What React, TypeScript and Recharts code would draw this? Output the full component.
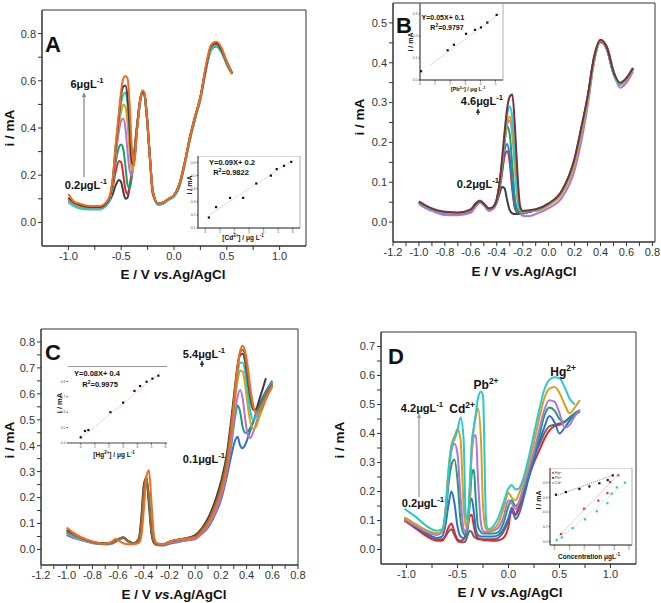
import React from "react";
import {
  LineChart,
  Line,
  XAxis,
  YAxis,
  ReferenceArea,
  ReferenceLine,
  ComposedChart,
  Scatter,
} from "recharts";

const FONT = '"Liberation Sans", Arial, Helvetica, sans-serif';

const BLACK = "#3d3d3d";
const RED = "#e3262a";
const GREEN = "#1c9d70";
const PURPLE = "#b473dc";
const GOLD = "#d7a11c";
const CYAN = "#2cc7c9";
const DARK = "#4b3a3f";
const ORANGE = "#f36b21";
const BLUE = "#2c6fd8";
const BROWN = "#7b2f33";
const OLIVE = "#8a6f3a";

// ---------- A : Cd2+ ----------
const potA = [-1.0, -0.95, -0.9, -0.8, -0.7, -0.62, -0.58, -0.55, -0.52, -0.5, -0.48, -0.46, -0.44, -0.42, -0.4, -0.38, -0.35, -0.32, -0.3, -0.28, -0.26, -0.23, -0.2, -0.15, -0.1, -0.05, 0, 0.05, 0.1, 0.15, 0.2, 0.25, 0.3, 0.35, 0.4, 0.45, 0.5, 0.55];
const aBlack = [0.10, 0.08, 0.07, 0.06, 0.06, 0.085, 0.12, 0.16, 0.18, 0.17, 0.13, 0.10, 0.105, 0.15, 0.21, 0.28, 0.41, 0.52, 0.55, 0.54, 0.46, 0.28, 0.12, 0.08, 0.085, 0.10, 0.115, 0.16, 0.25, 0.35, 0.44, 0.53, 0.65, 0.74, 0.755, 0.73, 0.67, 0.63];
const aRed = [0.10, 0.08, 0.07, 0.062, 0.062, 0.09, 0.15, 0.22, 0.26, 0.255, 0.20, 0.14, 0.12, 0.15, 0.21, 0.28, 0.41, 0.52, 0.55, 0.54, 0.46, 0.28, 0.12, 0.08, 0.085, 0.10, 0.115, 0.16, 0.25, 0.36, 0.45, 0.53, 0.65, 0.74, 0.76, 0.73, 0.68, 0.63];
const aGreen = [0.09, 0.075, 0.065, 0.06, 0.06, 0.09, 0.16, 0.26, 0.32, 0.33, 0.31, 0.24, 0.16, 0.145, 0.19, 0.27, 0.40, 0.51, 0.55, 0.54, 0.46, 0.29, 0.13, 0.075, 0.08, 0.10, 0.11, 0.15, 0.24, 0.35, 0.44, 0.52, 0.64, 0.73, 0.745, 0.72, 0.67, 0.63];
const aPurple = [0.095, 0.078, 0.068, 0.062, 0.062, 0.09, 0.17, 0.29, 0.39, 0.43, 0.44, 0.40, 0.30, 0.22, 0.20, 0.26, 0.40, 0.52, 0.555, 0.545, 0.47, 0.29, 0.13, 0.078, 0.083, 0.10, 0.112, 0.155, 0.25, 0.35, 0.44, 0.53, 0.65, 0.75, 0.765, 0.735, 0.68, 0.635];
const aGold = [0.10, 0.08, 0.07, 0.063, 0.063, 0.09, 0.17, 0.31, 0.42, 0.47, 0.50, 0.49, 0.42, 0.30, 0.22, 0.25, 0.40, 0.52, 0.555, 0.545, 0.47, 0.29, 0.13, 0.08, 0.085, 0.10, 0.115, 0.16, 0.25, 0.36, 0.45, 0.53, 0.65, 0.74, 0.76, 0.73, 0.68, 0.63];
const aCyan = [0.085, 0.07, 0.06, 0.055, 0.055, 0.085, 0.17, 0.32, 0.44, 0.51, 0.54, 0.55, 0.50, 0.38, 0.26, 0.25, 0.39, 0.51, 0.55, 0.54, 0.46, 0.29, 0.13, 0.075, 0.08, 0.095, 0.11, 0.15, 0.24, 0.35, 0.44, 0.52, 0.64, 0.73, 0.75, 0.725, 0.675, 0.63];
const aDark = [0.105, 0.085, 0.075, 0.065, 0.065, 0.095, 0.18, 0.33, 0.46, 0.54, 0.575, 0.58, 0.53, 0.40, 0.25, 0.25, 0.40, 0.52, 0.555, 0.545, 0.47, 0.29, 0.13, 0.08, 0.085, 0.10, 0.115, 0.16, 0.25, 0.36, 0.45, 0.53, 0.65, 0.745, 0.76, 0.73, 0.68, 0.63];
const aOrange = [0.12, 0.09, 0.08, 0.07, 0.07, 0.10, 0.19, 0.34, 0.47, 0.56, 0.61, 0.62, 0.61, 0.50, 0.32, 0.24, 0.39, 0.52, 0.56, 0.55, 0.47, 0.29, 0.13, 0.08, 0.085, 0.10, 0.115, 0.16, 0.25, 0.36, 0.45, 0.53, 0.66, 0.75, 0.765, 0.74, 0.68, 0.63];

// ---------- B : Pb2+ ----------
const potB = [-1.0, -0.95, -0.9, -0.8, -0.7, -0.6, -0.56, -0.53, -0.5, -0.46, -0.43, -0.4, -0.38, -0.36, -0.34, -0.32, -0.3, -0.28, -0.26, -0.24, -0.22, -0.2, -0.15, -0.1, 0.0, 0.1, 0.2, 0.25, 0.3, 0.35, 0.4, 0.45, 0.5, 0.55, 0.6, 0.65];
const bBlack = [0.05, 0.04, 0.032, 0.024, 0.023, 0.03, 0.046, 0.053, 0.046, 0.034, 0.035, 0.05, 0.07, 0.088, 0.085, 0.055, 0.03, 0.022, 0.02, 0.02, 0.021, 0.022, 0.025, 0.03, 0.045, 0.075, 0.155, 0.23, 0.31, 0.41, 0.455, 0.435, 0.375, 0.347, 0.36, 0.385];
const bRed = [0.048, 0.038, 0.03, 0.022, 0.02, 0.026, 0.04, 0.05, 0.044, 0.032, 0.036, 0.05, 0.08, 0.12, 0.165, 0.178, 0.15, 0.08, 0.035, 0.024, 0.022, 0.022, 0.026, 0.03, 0.044, 0.073, 0.15, 0.225, 0.305, 0.405, 0.452, 0.432, 0.372, 0.345, 0.358, 0.383];
const bBlue = [0.05, 0.04, 0.032, 0.024, 0.022, 0.03, 0.046, 0.052, 0.045, 0.033, 0.036, 0.052, 0.085, 0.13, 0.18, 0.196, 0.165, 0.09, 0.038, 0.025, 0.022, 0.022, 0.026, 0.03, 0.045, 0.075, 0.155, 0.23, 0.31, 0.41, 0.455, 0.435, 0.375, 0.347, 0.36, 0.385];
const bGreen = [0.05, 0.04, 0.032, 0.024, 0.022, 0.03, 0.048, 0.054, 0.046, 0.034, 0.036, 0.055, 0.09, 0.14, 0.2, 0.24, 0.22, 0.14, 0.06, 0.03, 0.024, 0.023, 0.027, 0.031, 0.046, 0.076, 0.157, 0.232, 0.312, 0.412, 0.456, 0.436, 0.376, 0.348, 0.361, 0.386];
const bPurple = [0.045, 0.035, 0.028, 0.018, 0.017, 0.023, 0.04, 0.05, 0.042, 0.028, 0.032, 0.05, 0.085, 0.14, 0.2, 0.245, 0.255, 0.22, 0.14, 0.06, 0.025, 0.016, 0.015, 0.02, 0.035, 0.06, 0.13, 0.2, 0.29, 0.40, 0.455, 0.44, 0.38, 0.337, 0.35, 0.378];
const bGold = [0.05, 0.04, 0.032, 0.024, 0.022, 0.03, 0.046, 0.052, 0.045, 0.033, 0.037, 0.056, 0.09, 0.145, 0.205, 0.25, 0.265, 0.23, 0.14, 0.06, 0.03, 0.025, 0.028, 0.028, 0.042, 0.07, 0.145, 0.22, 0.30, 0.405, 0.455, 0.435, 0.375, 0.345, 0.358, 0.383];
const bCyan = [0.05, 0.04, 0.032, 0.024, 0.022, 0.03, 0.046, 0.052, 0.045, 0.033, 0.037, 0.057, 0.092, 0.15, 0.215, 0.27, 0.29, 0.26, 0.17, 0.07, 0.032, 0.026, 0.028, 0.03, 0.045, 0.075, 0.155, 0.23, 0.31, 0.41, 0.455, 0.435, 0.372, 0.345, 0.36, 0.387];
const bBrown = [0.052, 0.042, 0.034, 0.026, 0.024, 0.032, 0.047, 0.053, 0.046, 0.034, 0.038, 0.058, 0.095, 0.155, 0.225, 0.285, 0.315, 0.32, 0.24, 0.12, 0.04, 0.028, 0.03, 0.032, 0.047, 0.078, 0.16, 0.235, 0.315, 0.415, 0.458, 0.438, 0.378, 0.35, 0.362, 0.387];

// ---------- C : Hg2+ ----------
const potC = [-1.0, -0.95, -0.9, -0.8, -0.7, -0.65, -0.62, -0.59, -0.56, -0.52, -0.48, -0.44, -0.42, -0.4, -0.38, -0.36, -0.34, -0.32, -0.3, -0.25, -0.2, -0.1, 0.0, 0.05, 0.1, 0.15, 0.2, 0.25, 0.28, 0.31, 0.33, 0.35, 0.37, 0.39, 0.41, 0.43, 0.45, 0.47, 0.5, 0.55, 0.6];
const cBlue = [0.055, 0.045, 0.038, 0.025, 0.02, 0.022, 0.03, 0.038, 0.044, 0.03, 0.022, 0.03, 0.07, 0.19, 0.26, 0.19, 0.07, 0.025, 0.017, 0.015, 0.022, 0.032, 0.04, 0.06, 0.085, 0.13, 0.19, 0.29, 0.36, 0.42, 0.435, 0.40, 0.39, 0.405, 0.43, 0.46, 0.49, 0.52, 0.56, 0.61, 0.65];
const cGreen = [0.065, 0.052, 0.043, 0.027, 0.021, 0.024, 0.031, 0.04, 0.046, 0.031, 0.023, 0.032, 0.08, 0.2, 0.265, 0.2, 0.08, 0.03, 0.02, 0.02, 0.028, 0.038, 0.045, 0.065, 0.095, 0.14, 0.21, 0.31, 0.40, 0.51, 0.555, 0.53, 0.47, 0.45, 0.455, 0.47, 0.49, 0.515, 0.55, 0.60, 0.64];
const cPurple = [0.06, 0.048, 0.04, 0.025, 0.02, 0.022, 0.03, 0.038, 0.044, 0.03, 0.022, 0.03, 0.07, 0.19, 0.26, 0.2, 0.08, 0.028, 0.018, 0.018, 0.025, 0.034, 0.04, 0.06, 0.09, 0.135, 0.20, 0.31, 0.41, 0.53, 0.59, 0.615, 0.58, 0.50, 0.44, 0.43, 0.45, 0.48, 0.53, 0.59, 0.635];
const cGold = [0.07, 0.055, 0.045, 0.028, 0.022, 0.025, 0.032, 0.04, 0.045, 0.03, 0.022, 0.03, 0.075, 0.2, 0.27, 0.2, 0.08, 0.03, 0.02, 0.02, 0.028, 0.038, 0.05, 0.07, 0.10, 0.15, 0.22, 0.33, 0.44, 0.58, 0.65, 0.69, 0.685, 0.63, 0.55, 0.49, 0.465, 0.47, 0.51, 0.58, 0.63];
const cCyan = [0.065, 0.052, 0.043, 0.027, 0.021, 0.024, 0.031, 0.04, 0.046, 0.031, 0.023, 0.032, 0.08, 0.2, 0.27, 0.21, 0.085, 0.03, 0.02, 0.02, 0.03, 0.04, 0.05, 0.07, 0.10, 0.15, 0.22, 0.34, 0.46, 0.60, 0.68, 0.72, 0.72, 0.68, 0.60, 0.53, 0.50, 0.51, 0.54, 0.60, 0.645];
const cBlack = [0.075, 0.06, 0.048, 0.03, 0.024, 0.026, 0.033, 0.042, 0.046, 0.033, 0.024, 0.04, 0.12, 0.25, 0.275, 0.17, 0.06, 0.025, 0.02, 0.02, 0.03, 0.04, 0.055, 0.08, 0.12, 0.18, 0.26, 0.38, 0.50, 0.63, 0.71, 0.75, 0.755, 0.72, 0.65, 0.58, 0.54, 0.54, 0.58, 0.66, null];
const cOlive = [0.07, 0.056, 0.046, 0.028, 0.022, 0.025, 0.032, 0.041, 0.046, 0.032, 0.023, 0.035, 0.1, 0.23, 0.28, 0.19, 0.07, 0.028, 0.02, 0.02, 0.03, 0.04, 0.05, 0.075, 0.11, 0.165, 0.24, 0.36, 0.48, 0.62, 0.71, 0.76, 0.77, 0.74, 0.67, 0.60, 0.55, 0.53, 0.55, 0.60, 0.64];
const cOrange = [0.085, 0.065, 0.05, 0.03, 0.022, 0.03, 0.04, 0.032, 0.024, 0.02, 0.02, 0.025, 0.05, 0.15, 0.28, 0.305, 0.18, 0.05, 0.025, 0.02, 0.03, 0.04, 0.045, 0.065, 0.10, 0.15, 0.22, 0.33, 0.45, 0.60, 0.70, 0.765, 0.785, 0.76, 0.70, 0.62, 0.56, 0.53, 0.53, 0.58, 0.63];

// ---------- D : simultaneous ----------
const potD = [-1.02, -0.9, -0.8, -0.7, -0.65, -0.62, -0.59, -0.56, -0.53, -0.5, -0.47, -0.44, -0.42, -0.4, -0.38, -0.36, -0.34, -0.32, -0.3, -0.27, -0.25, -0.22, -0.2, -0.15, -0.1, -0.05, 0.0, 0.03, 0.07, 0.1, 0.15, 0.2, 0.25, 0.3, 0.35, 0.4, 0.45, 0.5, 0.55, 0.6, 0.65, 0.7];
const dRed = [0.10, 0.07, 0.045, 0.03, 0.03, 0.045, 0.075, 0.09, 0.06, 0.035, 0.03, 0.035, 0.05, 0.08, 0.115, 0.12, 0.08, 0.05, 0.04, 0.035, 0.033, 0.032, 0.032, 0.03, 0.032, 0.04, 0.08, 0.145, 0.12, 0.14, 0.19, 0.25, 0.30, 0.34, 0.38, 0.41, 0.425, 0.43, 0.44, 0.455, 0.47, 0.48];
const dDark = [0.10, 0.075, 0.05, 0.035, 0.035, 0.045, 0.06, 0.07, 0.05, 0.03, 0.025, 0.025, 0.03, 0.05, 0.065, 0.06, 0.045, 0.04, 0.035, 0.035, 0.035, 0.035, 0.035, 0.035, 0.04, 0.06, 0.10, 0.13, 0.12, 0.15, 0.21, 0.27, 0.32, 0.36, 0.40, 0.425, 0.43, 0.435, 0.44, 0.455, 0.465, 0.475];
const dBlue = [0.105, 0.075, 0.055, 0.04, 0.045, 0.08, 0.15, 0.20, 0.16, 0.08, 0.045, 0.04, 0.05, 0.10, 0.16, 0.175, 0.13, 0.07, 0.05, 0.045, 0.045, 0.045, 0.045, 0.045, 0.05, 0.07, 0.11, 0.14, 0.105, 0.12, 0.18, 0.25, 0.31, 0.37, 0.42, 0.46, 0.44, 0.40, 0.42, 0.445, 0.465, 0.48];
const dGreen = [0.11, 0.085, 0.065, 0.055, 0.06, 0.10, 0.22, 0.29, 0.31, 0.24, 0.10, 0.055, 0.05, 0.07, 0.16, 0.26, 0.275, 0.17, 0.08, 0.06, 0.055, 0.055, 0.055, 0.055, 0.06, 0.09, 0.15, 0.17, 0.15, 0.16, 0.21, 0.27, 0.33, 0.39, 0.46, 0.49, 0.48, 0.45, 0.44, 0.455, 0.47, 0.48];
const dPurple = [0.105, 0.08, 0.06, 0.05, 0.06, 0.12, 0.25, 0.34, 0.365, 0.33, 0.18, 0.07, 0.06, 0.09, 0.20, 0.33, 0.39, 0.395, 0.25, 0.09, 0.065, 0.06, 0.06, 0.065, 0.075, 0.11, 0.17, 0.16, 0.14, 0.16, 0.22, 0.28, 0.34, 0.41, 0.48, 0.515, 0.51, 0.47, 0.42, 0.43, 0.46, 0.48];
const dGold = [0.11, 0.085, 0.065, 0.055, 0.065, 0.13, 0.27, 0.36, 0.39, 0.415, 0.38, 0.15, 0.08, 0.09, 0.20, 0.35, 0.42, 0.46, 0.487, 0.38, 0.15, 0.07, 0.065, 0.07, 0.09, 0.14, 0.195, 0.18, 0.17, 0.19, 0.24, 0.30, 0.37, 0.45, 0.52, 0.555, 0.56, 0.54, 0.50, 0.47, 0.49, 0.515];
const dCyan = [0.14, 0.11, 0.08, 0.065, 0.07, 0.12, 0.26, 0.35, 0.38, 0.41, 0.455, 0.38, 0.12, 0.10, 0.22, 0.37, 0.42, 0.47, 0.52, 0.545, 0.53, 0.10, 0.07, 0.08, 0.11, 0.16, 0.21, 0.222, 0.207, 0.21, 0.25, 0.32, 0.40, 0.48, 0.55, 0.585, 0.594, 0.59, 0.56, 0.52, 0.50, null];

// ---------- insets (calibration) ----------
const cdConc = [0.25, 0.74, 1.7, 2.6, 3.5, 4.5, 4.9, 5.4, 5.9];
const cdCur = [0.18, 0.26, 0.33, 0.33, 0.44, 0.50, 0.55, 0.575, 0.605];
const cdFitX = [0.25, 5.9];
const cdFitY = [0.2, 0.61];

const pbConc = [0.07, 1.83, 2.25, 3.05, 3.64, 4.04, 4.46, 5.08];
const pbCur = [0.04, 0.135, 0.16, 0.21, 0.228, 0.239, 0.261, 0.296];
const pbFitX = [0.66, 5.3];
const pbFitY = [0.067, 0.302];

const hgConc = [0, 0.3, 0.54, 2.1, 3.0, 3.8, 4.2, 4.65, 5.07, 5.49];
const hgCur = [0.437, 0.478, 0.484, 0.6, 0.662, 0.738, 0.77, 0.798, 0.818, 0.837];
const hgFitX = [0, 5.6];
const hgFitY = [0.43, 0.855];

const dPbConc = [0.1, 0.77, 1.67, 2.34, 3.01, 3.57, 3.91];
const dPbCur = [0.636, 0.671, 0.714, 0.749, 0.792, 0.835, 0.9];
const dHgConc = [0.44, 1.98, 2.94, 3.55, 3.73, 4.28];
const dHgCur = [0.1, 0.445, 0.555, 0.658, 0.809, 0.9];
const dCdConc = [0.15, 0.49, 1.22, 2.05, 2.83, 3.55, 3.84, 4.18, 4.73];
const dCdCur = [0.02, 0.052, 0.18, 0.3, 0.41, 0.52, 0.65, 0.736, 0.8];

type Curve = { key: string; color: string; values: (number | null)[] };

function toRows(grid: number[], curves: Curve[]) {
  return grid.map((e, i) => {
    const row: Record<string, number | null> = { e };
    curves.forEach((c) => {
      row[c.key] = c.values[i] ?? null;
    });
    return row;
  });
}

function pairs(xs: number[], ys: number[]) {
  return xs.map((x, i) => ({ x, y: ys[i] }));
}

function withMinor(major: number[]) {
  const out: number[] = [];
  major.forEach((t, i) => {
    if (i > 0) out.push(+((major[i - 1] + t) / 2).toFixed(4));
    out.push(t);
  });
  return out;
}

const majorFmt = (major: number[]) => (v: number) =>
  major.some((m) => Math.abs(m - v) < 1e-6) ? v.toFixed(1) : "";

const tickStyle = { fontSize: 11, fill: "#333", fontFamily: FONT };

function Panel({
  left,
  top,
  width,
  height,
  frame,
  grid,
  curves,
  xDomain,
  yDomain,
  xMajor,
  yMajor,
}: {
  left: number;
  top: number;
  width: number;
  height: number;
  frame: { l: number; t: number; r: number; b: number };
  grid: number[];
  curves: Curve[];
  xDomain: [number, number];
  yDomain: [number, number];
  xMajor: number[];
  yMajor: number[];
}) {
  const yw = 34;
  const xh = 20;
  const margin = {
    left: frame.l - left - yw,
    top: frame.t - top,
    right: left + width - frame.r,
    bottom: top + height - frame.b - xh,
  };
  return (
    <div style={{ position: "absolute", left, top }}>
      <LineChart width={width} height={height} data={toRows(grid, curves)} margin={margin}>
        <XAxis
          type="number"
          dataKey="e"
          domain={xDomain}
          ticks={withMinor(xMajor)}
          tickFormatter={majorFmt(xMajor)}
          interval={0}
          allowDataOverflow
          height={xh}
          tick={tickStyle}
          stroke="#333"
          tickSize={4}
        />
        <YAxis
          type="number"
          domain={yDomain}
          ticks={withMinor(yMajor)}
          tickFormatter={majorFmt(yMajor)}
          interval={0}
          allowDataOverflow
          width={yw}
          tick={tickStyle}
          stroke="#333"
          tickSize={4}
        />
        <ReferenceArea
          x1={xDomain[0]}
          x2={xDomain[1]}
          y1={yDomain[0]}
          y2={yDomain[1]}
          fill="none"
          stroke="#333"
          strokeWidth={1}
          ifOverflow="visible"
        />
        {curves.map((c) => (
          <Line
            key={c.key}
            dataKey={c.key}
            type="monotone"
            stroke={c.color}
            strokeWidth={2}
            dot={false}
            isAnimationActive={false}
          />
        ))}
      </LineChart>
    </div>
  );
}

type PointSet = { color: string; pts: { x: number; y: number }[] };

function Inset({
  frame,
  xDomain,
  yDomain,
  xTicks,
  yTicks,
  sets,
  fits,
  boxed = true,
}: {
  frame: { l: number; t: number; r: number; b: number };
  xDomain: [number, number];
  yDomain: [number, number];
  xTicks: number[];
  yTicks: number[];
  sets: PointSet[];
  fits: PointSet[];
  boxed?: boolean;
}) {
  const yw = 8;
  const xh = 8;
  const small = { fontSize: 3.5, fill: "#555", fontFamily: FONT };
  return (
    <div style={{ position: "absolute", left: frame.l - yw, top: frame.t }}>
      <ComposedChart
        width={frame.r - frame.l + yw + 1}
        height={frame.b - frame.t + xh}
        margin={{ top: 0, right: 1, left: 0, bottom: 0 }}
      >
        <XAxis
          type="number"
          dataKey="x"
          domain={xDomain}
          ticks={xTicks}
          interval={0}
          allowDataOverflow
          height={xh}
          tick={small}
          tickSize={1.5}
          tickMargin={1}
          stroke="#444"
        />
        <YAxis
          type="number"
          dataKey="y"
          domain={yDomain}
          ticks={yTicks}
          interval={0}
          allowDataOverflow
          width={yw}
          tick={small}
          tickSize={1.5}
          tickMargin={1}
          stroke="#444"
          axisLine={boxed}
          tickFormatter={(v: number) => v.toFixed(1)}
        />
        {boxed ? (
          <ReferenceArea
            x1={xDomain[0]}
            x2={xDomain[1]}
            y1={yDomain[0]}
            y2={yDomain[1]}
            fill="none"
            stroke="#999"
            strokeWidth={0.8}
          />
        ) : (
          <ReferenceLine y={yDomain[1]} stroke="#999" strokeWidth={2} />
        )}
        {fits.map((f, i) => (
          <Line
            key={"f" + i}
            data={f.pts}
            dataKey="y"
            type="linear"
            stroke={f.color}
            strokeWidth={0.8}
            strokeDasharray="1 1.2"
            dot={false}
            isAnimationActive={false}
          />
        ))}
        {sets.map((s, i) => (
          <Scatter
            key={"s" + i}
            data={s.pts}
            fill={s.color}
            isAnimationActive={false}
            shape={(p: any) => (
              <rect x={p.cx - 1.1} y={p.cy - 1.1} width={2.2} height={2.2} fill={s.color} />
            )}
          />
        ))}
      </ComposedChart>
    </div>
  );
}

function T({
  x,
  y,
  size = 11,
  bold = true,
  rotate = false,
  color = "#111",
  children,
}: {
  x: number;
  y: number;
  size?: number;
  bold?: boolean;
  rotate?: boolean;
  color?: string;
  children: React.ReactNode;
}) {
  return (
    <div
      style={{
        position: "absolute",
        left: x,
        top: y,
        transform: `translate(-50%, -50%)${rotate ? " rotate(-90deg)" : ""}`,
        fontSize: size,
        fontWeight: bold ? 700 : 400,
        color,
        whiteSpace: "nowrap",
        lineHeight: 1,
        fontFamily: FONT,
      }}
    >
      {children}
    </div>
  );
}

const sup = (s: string, size = "0.7em") => (
  <sup style={{ fontSize: size, verticalAlign: "0.55em", lineHeight: 0 }}>{s}</sup>
);

function XTitle({ x, y }: { x: number; y: number }) {
  return (
    <T x={x} y={y} size={13.5}>
      E / V <i>vs</i>.Ag/AgCl
    </T>
  );
}

function Arrow({ x, y1, y2, color = "#777" }: { x: number; y1: number; y2: number; color?: string }) {
  return (
    <g>
      <line x1={x} y1={y1} x2={x} y2={y2 + 4} stroke={color} strokeWidth={1.3} />
      <polygon points={`${x - 2.2},${y2 + 5} ${x + 2.2},${y2 + 5} ${x},${y2}`} fill={color} />
    </g>
  );
}

export default function App() {
  const curvesA: Curve[] = [
    { key: "k", color: BLACK, values: aBlack },
    { key: "r", color: RED, values: aRed },
    { key: "g", color: GREEN, values: aGreen },
    { key: "p", color: PURPLE, values: aPurple },
    { key: "y", color: GOLD, values: aGold },
    { key: "c", color: CYAN, values: aCyan },
    { key: "d", color: DARK, values: aDark },
    { key: "o", color: ORANGE, values: aOrange },
  ];
  const curvesB: Curve[] = [
    { key: "k", color: BLACK, values: bBlack },
    { key: "r", color: RED, values: bRed },
    { key: "b", color: BLUE, values: bBlue },
    { key: "p", color: PURPLE, values: bPurple },
    { key: "g", color: GREEN, values: bGreen },
    { key: "y", color: GOLD, values: bGold },
    { key: "c", color: CYAN, values: bCyan },
    { key: "n", color: BROWN, values: bBrown },
  ];
  const curvesC: Curve[] = [
    { key: "b", color: BLUE, values: cBlue },
    { key: "g", color: GREEN, values: cGreen },
    { key: "p", color: PURPLE, values: cPurple },
    { key: "y", color: GOLD, values: cGold },
    { key: "c", color: CYAN, values: cCyan },
    { key: "k", color: BLACK, values: cBlack },
    { key: "l", color: OLIVE, values: cOlive },
    { key: "o", color: ORANGE, values: cOrange },
  ];
  const curvesD: Curve[] = [
    { key: "k", color: "#666", values: dDark },
    { key: "r", color: RED, values: dRed },
    { key: "b", color: BLUE, values: dBlue },
    { key: "g", color: GREEN, values: dGreen },
    { key: "p", color: PURPLE, values: dPurple },
    { key: "y", color: GOLD, values: dGold },
    { key: "c", color: CYAN, values: dCyan },
  ];

  return (
    <div
      style={{
        position: "absolute",
        left: 0,
        top: 0,
        width: 661,
        height: 603,
        background: "#fff",
        overflow: "hidden",
        fontFamily: FONT,
      }}
    >
      <Panel
        left={0}
        top={0}
        width={320}
        height={290}
        frame={{ l: 42, t: 10, r: 306, b: 246 }}
        grid={potA}
        curves={curvesA}
        xDomain={[-1.25, 1.25]}
        yDomain={[-0.1, 0.9]}
        xMajor={[-1.0, -0.5, 0, 0.5, 1.0]}
        yMajor={[0, 0.2, 0.4, 0.6, 0.8]}
      />
      <Panel
        left={340}
        top={0}
        width={321}
        height={290}
        frame={{ l: 393, t: 3, r: 655, b: 242 }}
        grid={potB}
        curves={curvesB}
        xDomain={[-1.2, 0.82]}
        yDomain={[-0.05, 0.55]}
        xMajor={[-1.2, -1.0, -0.8, -0.6, -0.4, -0.2, 0, 0.2, 0.4, 0.6, 0.8]}
        yMajor={[0, 0.1, 0.2, 0.3, 0.4, 0.5]}
      />
      <Panel
        left={0}
        top={300}
        width={320}
        height={300}
        frame={{ l: 41, t: 329, r: 298, b: 565 }}
        grid={potC}
        curves={curvesC}
        xDomain={[-1.2, 0.8]}
        yDomain={[-0.06, 0.85]}
        xMajor={[-1.2, -1.0, -0.8, -0.6, -0.4, -0.2, 0, 0.2, 0.4, 0.6, 0.8]}
        yMajor={[0, 0.1, 0.2, 0.3, 0.4, 0.5, 0.6, 0.7, 0.8]}
      />
      <Panel
        left={340}
        top={300}
        width={321}
        height={300}
        frame={{ l: 381, t: 332, r: 636, b: 564 }}
        grid={potD}
        curves={curvesD}
        xDomain={[-1.25, 1.25]}
        yDomain={[-0.05, 0.75]}
        xMajor={[-1.0, -0.5, 0, 0.5, 1.0]}
        yMajor={[0, 0.1, 0.2, 0.3, 0.4, 0.5, 0.6, 0.7]}
      />

      <Inset
        frame={{ l: 198, t: 156, r: 300, b: 228 }}
        xDomain={[-0.5, 6.5]}
        yDomain={[0.1, 0.65]}
        xTicks={[0, 1, 2, 3, 4, 5, 6]}
        yTicks={[0.1, 0.2, 0.3, 0.4, 0.5, 0.6]}
        sets={[{ color: "#111", pts: pairs(cdConc, cdCur) }]}
        fits={[{ color: "#f08a70", pts: pairs(cdFitX, cdFitY) }]}
      />
      <Inset
        frame={{ l: 420, t: 3, r: 503, b: 80 }}
        xDomain={[0, 5.5]}
        yDomain={[0, 0.35]}
        xTicks={[0, 1, 2, 3, 4, 5]}
        yTicks={[0, 0.1, 0.2, 0.3]}
        sets={[{ color: "#111", pts: pairs(pbConc, pbCur) }]}
        fits={[{ color: "#f08a70", pts: pairs(pbFitX, pbFitY) }]}
      />
      <Inset
        frame={{ l: 68, t: 366, r: 167, b: 443 }}
        xDomain={[-0.9, 6.1]}
        yDomain={[0.4, 0.9]}
        xTicks={[0, 1, 2, 3, 4, 5, 6]}
        yTicks={[0.4, 0.5, 0.6, 0.7, 0.8]}
        sets={[{ color: "#111", pts: pairs(hgConc, hgCur) }]}
        fits={[{ color: "#f08a70", pts: pairs(hgFitX, hgFitY) }]}
        boxed={false}
      />
      <Inset
        frame={{ l: 550, t: 468, r: 632, b: 545 }}
        xDomain={[-0.3, 5.2]}
        yDomain={[-0.05, 1.0]}
        xTicks={[0, 1, 2, 3, 4, 5]}
        yTicks={[0, 0.2, 0.4, 0.6, 0.8]}
        sets={[
          { color: "#111", pts: pairs(dPbConc, dPbCur) },
          { color: "#e33", pts: pairs(dHgConc, dHgCur) },
          { color: "#2cc7c9", pts: pairs(dCdConc, dCdCur) },
        ]}
        fits={[
          { color: "#555", pts: pairs([0.1, 3.9], [0.62, 0.9]) },
          { color: "#f07060", pts: pairs([0.3, 4.3], [0.07, 0.92]) },
          { color: "#9be07a", pts: pairs([0.1, 4.8], [0.0, 0.8]) },
        ]}
      />

      <svg
        width={661}
        height={603}
        style={{ position: "absolute", left: 0, top: 0, pointerEvents: "none" }}
      >
        <Arrow x={84} y1={177} y2={92} color="#888" />
        <Arrow x={478} y1={115} y2={108} color="#333" />
        <Arrow x={202} y1={367} y2={360} color="#333" />
        <Arrow x={419} y1={497} y2={413} color="#999" />
      </svg>

      {/* panel letters */}
      <T x={53} y={45} size={22}>A</T>
      <T x={404} y={26} size={22}>B</T>
      <T x={53} y={353} size={22}>C</T>
      <T x={396} y={357} size={22}>D</T>

      {/* axis titles */}
      <XTitle x={173} y={275} />
      <XTitle x={524} y={272} />
      <XTitle x={174} y={595} />
      <XTitle x={510} y={593} />
      <T x={10} y={128} size={13.5} rotate>i / mA</T>
      <T x={360} y={117} size={13.5} rotate>i / mA</T>
      <T x={10} y={440} size={13.5} rotate>i / mA</T>
      <T x={340} y={440} size={13.5} rotate>i / mA</T>

      {/* concentration marks */}
      <T x={87} y={84} size={11}>6μgL{sup("-1")}</T>
      <T x={86} y={185} size={11}>0.2μgL{sup("-1")}</T>
      <T x={482} y={101} size={11}>4.6μgL{sup("-1")}</T>
      <T x={478} y={184} size={11}>0.2μgL{sup("-1")}</T>
      <T x={204} y={354} size={11}>5.4μgL{sup("-1")}</T>
      <T x={204} y={459} size={11}>0.1μgL{sup("-1")}</T>
      <T x={422} y={408} size={11}>4.2μgL{sup("-1")}</T>
      <T x={423} y={503} size={11}>0.2μgL{sup("-1")}</T>
      <T x={462} y={409} size={12}>Cd{sup("2+")}</T>
      <T x={486} y={385} size={12}>Pb{sup("2+")}</T>
      <T x={563} y={372} size={12}>Hg{sup("2+")}</T>

      {/* inset texts */}
      <T x={232} y={163} size={7.5}>Y=0.09X+ 0.2</T>
      <T x={231} y={173} size={7.5}>R{sup("2")}=0.9822</T>
      <T x={243} y={238} size={6.5}>[Cd{sup("2+")}] / μg L{sup("-1")}</T>
      <T x={189} y={185} size={7} rotate>i / mA</T>

      <T x={443} y={17} size={7}>Y=0.05X+ 0.1</T>
      <T x={447} y={27} size={7}>R{sup("2")}=0.9797</T>
      <T x={468} y={90} size={5.5}>[Pb{sup("2+")}] / μg L{sup("-1")}</T>
      <T x={410} y={42} size={7} rotate>i / mA</T>

      <T x={97} y={374} size={7.5}>Y=0.08X+ 0.4</T>
      <T x={100} y={385} size={7.5}>R{sup("2")}=0.9975</T>
      <T x={114} y={455} size={6.5}>[Hg{sup("2+")}] / μg L{sup("-1")}</T>
      <T x={60} y={403} size={7.5} rotate>i / mA</T>

      <T x={589} y={557} size={6.5}>Concentration μgL{sup("-1")}</T>
      <T x={538} y={500} size={7} rotate>i / mA</T>
      <div style={{ position: "absolute", left: 552, top: 471, fontSize: 3.5, lineHeight: "5px", fontFamily: FONT, color: "#333" }}>
        <div><span style={{ color: "#e33" }}>■</span> Hg{sup("2+")}</div>
        <div><span style={{ color: "#111" }}>■</span> Pb{sup("2+")}</div>
        <div><span style={{ color: "#2cc7c9" }}>■</span> Cd{sup("2+")}</div>
      </div>
    </div>
  );
}
